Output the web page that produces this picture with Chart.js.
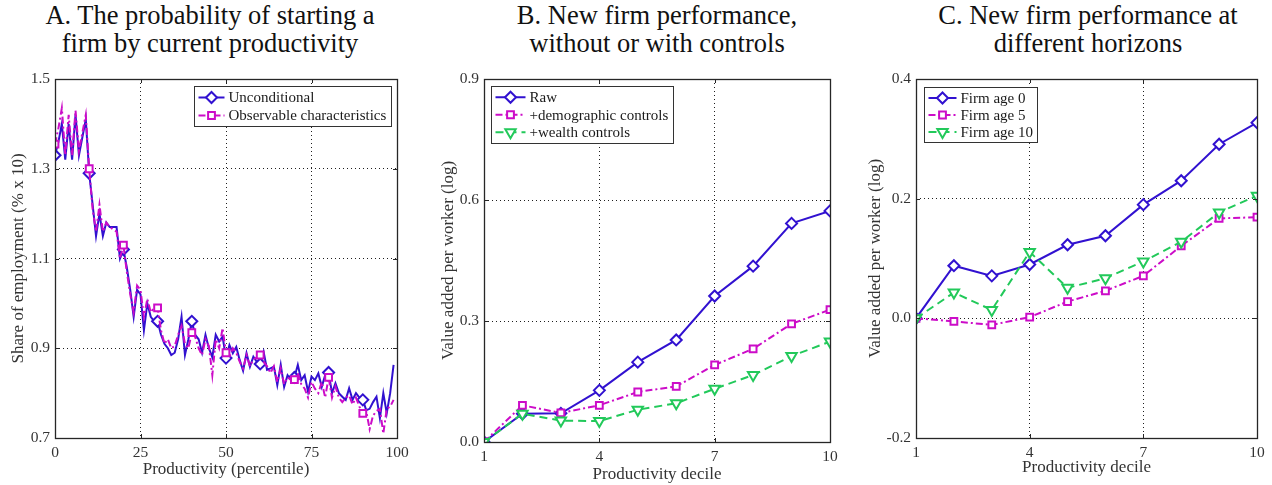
<!DOCTYPE html>
<html>
<head>
<meta charset="utf-8">
<script src="https://cdn.jsdelivr.net/npm/chart.js@4/dist/chart.umd.min.js"></script>
<style>
  html, body { margin: 0; padding: 0; background: #fff; }
  body { width: 1272px; height: 485px; position: relative; overflow: hidden; font-family: "Liberation Serif", serif; }
  .ttl { position: absolute; top: 1px; text-align: center; font-size: 26.5px; line-height: 28px; color: #111; white-space: nowrap; }
  .pane { position: absolute; top: 0; height: 485px; }
</style>
</head>
<body>
<div class="ttl" style="left:0;width:420px">A. The probability of starting a<br>firm by current productivity</div>
<div class="ttl" style="left:447px;width:420px">B. New firm performance,<br>without or with controls</div>
<div class="ttl" style="left:878px;width:420px">C. New firm performance at<br>different horizons</div>
<div class="pane" style="left:0;width:430px"><canvas id="chartA"></canvas></div>
<div class="pane" style="left:430px;width:430px"><canvas id="chartB"></canvas></div>
<div class="pane" style="left:860px;width:412px"><canvas id="chartC"></canvas></div>
<script>
// Panel A: share of employment starting a firm, by productivity percentile (0-99)
const unconditional = [
  1.33, 1.36, 1.40, 1.32, 1.40, 1.32, 1.42, 1.33, 1.37, 1.41,
  1.29, 1.22, 1.15, 1.20, 1.15, 1.18, 1.17, 1.17, 1.17, 1.10,
  1.12, 1.08, 1.03, 0.97, 1.03, 1.02, 0.94, 1.00, 0.97, 0.96,
  0.96, 0.93, 0.91, 0.90, 0.885, 0.89, 0.92, 0.97, 0.885, 0.92,
  0.96, 0.93, 0.92, 0.89, 0.93, 0.90, 0.88, 0.93, 0.915, 0.926,
  0.878, 0.907, 0.889, 0.903, 0.874, 0.85, 0.889, 0.859, 0.881, 0.87,
  0.865, 0.892, 0.852, 0.855, 0.859, 0.818, 0.863, 0.814, 0.84, 0.829,
  0.835, 0.863, 0.829, 0.84, 0.803, 0.837, 0.829, 0.844, 0.814, 0.84,
  0.846, 0.80, 0.822, 0.80, 0.792, 0.785, 0.811, 0.785, 0.80, 0.79,
  0.785, 0.762, 0.765, 0.78, 0.792, 0.744, 0.80, 0.755, 0.80, 0.863
];
const observable = [
  1.355, 1.39, 1.435, 1.33, 1.42, 1.33, 1.43, 1.34, 1.38, 1.42,
  1.30, 1.21, 1.16, 1.22, 1.16, 1.18, 1.17, 1.165, 1.16, 1.10,
  1.13, 1.07, 1.02, 0.98, 1.04, 1.03, 0.97, 1.01, 0.98, 0.99,
  0.99, 0.94, 0.91, 0.92, 0.90, 0.905, 0.93, 0.95, 0.91, 0.90,
  0.935, 0.925, 0.90, 0.885, 0.92, 0.905, 0.84, 0.92, 0.90, 0.945,
  0.89, 0.88, 0.90, 0.89, 0.87, 0.855, 0.885, 0.86, 0.875, 0.88,
  0.885, 0.87, 0.86, 0.845, 0.86, 0.825, 0.855, 0.82, 0.835, 0.83,
  0.83, 0.845, 0.82, 0.81, 0.79, 0.825, 0.81, 0.80, 0.825, 0.79,
  0.835, 0.79, 0.815, 0.79, 0.78, 0.79, 0.795, 0.775, 0.79, 0.77,
  0.755, 0.76, 0.72, 0.75, 0.76, 0.765, 0.71, 0.765, 0.77, 0.785
];

// Panels B and C: productivity deciles
const deciles = [1, 2, 3, 4, 5, 6, 7, 8, 9, 10];
const raw          = [0, 0.070, 0.071, 0.128, 0.198, 0.253, 0.362, 0.436, 0.542, 0.573];
const demographic  = [0, 0.091, 0.072, 0.091, 0.124, 0.138, 0.191, 0.231, 0.293, 0.328];
const wealth       = [0, 0.070, 0.053, 0.052, 0.080, 0.096, 0.132, 0.166, 0.213, 0.249];

const firmAge0  = [0, 0.088, 0.071, 0.090, 0.123, 0.138, 0.190, 0.230, 0.291, 0.327];
const firmAge5  = [0, -0.005, -0.011, 0.002, 0.028, 0.046, 0.071, 0.121, 0.167, 0.169];
const firmAge10 = [0, 0.043, 0.014, 0.111, 0.051, 0.067, 0.095, 0.128, 0.177, 0.205];

const ticksA_x = [0, 25, 50, 75, 100];
const ticksA_y = [0.7, 0.9, 1.1, 1.3, 1.5];

// styles
const BLUE = '#3111d0';
const MAGENTA = '#cc0cc8';
const GREEN = '#22c95a';
const SERIF = '"Liberation Serif", "DejaVu Serif", serif';
const TICK_SIZE = 15.5;
const TITLE_SIZE = 17;

const blueStyle = { borderColor: BLUE, borderWidth: 2, pointStyle: 'rectRot', pointBorderWidth: 2, pointBackgroundColor: '#fff', pointBorderColor: BLUE, radius: 5.5 };
const magentaStyle = { borderColor: MAGENTA, borderWidth: 2, borderDash: [7, 3, 2, 3], pointStyle: 'rect', pointBorderWidth: 2, pointBackgroundColor: '#fff', pointBorderColor: MAGENTA, radius: 4.8 };
const greenStyle = { borderColor: GREEN, borderWidth: 2, borderDash: [8, 5], pointStyle: 'triangle', pointRotation: 180, pointBorderWidth: 2, pointBackgroundColor: '#fff', pointBorderColor: GREEN, radius: 6 };

function lineSet(label, values, xs, style, order, markEvery) {
  return {
    label,
    data: values.map((v, i) => ({ x: xs ? xs[i] : i, y: v })),
    borderColor: style.borderColor,
    borderWidth: style.borderWidth,
    borderDash: style.borderDash || [],
    pointStyle: style.pointStyle,
    pointRotation: style.pointRotation || 0,
    pointBorderWidth: style.pointBorderWidth,
    pointBorderColor: style.pointBorderColor,
    pointBackgroundColor: style.pointBackgroundColor,
    pointRadius: markEvery ? values.map((v, i) => (i % markEvery === 0 ? style.radius : 0)) : style.radius,
    pointHoverRadius: 0,
    legendRadius: style.radius,
    fill: false,
    tension: 0,
    order
  };
}

// box around the plot area, with short inward ticks at the major tick values
const framePlugin = {
  id: 'frame',
  afterDatasetsDraw(chart) {
    const { ctx, chartArea: a, scales } = chart;
    ctx.save();
    ctx.strokeStyle = '#262626';
    ctx.lineWidth = 1.3;
    ctx.strokeRect(Math.round(a.left) + 0.5, Math.round(a.top) + 0.5, Math.round(a.width), Math.round(a.height));
    ctx.lineWidth = 1;
    const tl = 4;
    ctx.beginPath();
    scales.x.ticks.forEach(t => {
      const px = Math.round(scales.x.getPixelForValue(t.value)) + 0.5;
      ctx.moveTo(px, a.bottom); ctx.lineTo(px, a.bottom - tl);
      ctx.moveTo(px, a.top); ctx.lineTo(px, a.top + tl);
    });
    scales.y.ticks.forEach(t => {
      const py = Math.round(scales.y.getPixelForValue(t.value)) + 0.5;
      ctx.moveTo(a.left, py); ctx.lineTo(a.left + tl, py);
      ctx.moveTo(a.right, py); ctx.lineTo(a.right - tl, py);
    });
    ctx.stroke();
    ctx.restore();
  }
};

// legend drawn inside the plot area, in a framed white box
const boxLegend = {
  id: 'boxLegend',
  afterDraw(chart, args, o) {
    const { ctx, chartArea: a } = chart;
    const sets = chart.data.datasets;
    ctx.save();
    ctx.font = o.fontSize + 'px ' + SERIF;
    const textW = Math.max(...sets.map(d => ctx.measureText(d.label).width));
    const x0 = Math.round(a.left + o.x) + 0.5, y0 = Math.round(a.top + o.y) + 0.5;
    const w = Math.round(o.sample + 8 + textW + 5), h = Math.round(sets.length * o.row + 4);
    ctx.fillStyle = '#fff';
    ctx.fillRect(x0, y0, w, h);
    ctx.strokeStyle = '#333';
    ctx.lineWidth = 1;
    ctx.strokeRect(x0, y0, w, h);
    sets.forEach((d, i) => {
      const cy = y0 + 2 + o.row * (i + 0.5);
      const sx = x0 + 4;
      ctx.strokeStyle = d.borderColor;
      ctx.lineWidth = d.borderWidth;
      ctx.setLineDash(d.borderDash || []);
      ctx.beginPath();
      ctx.moveTo(sx, cy); ctx.lineTo(sx + o.sample, cy);
      ctx.stroke();
      ctx.setLineDash([]);
      ctx.fillStyle = d.pointBackgroundColor;
      ctx.strokeStyle = d.pointBorderColor;
      ctx.lineWidth = d.pointBorderWidth;
      Chart.helpers.drawPoint(ctx, { pointStyle: d.pointStyle, radius: d.legendRadius, borderWidth: d.pointBorderWidth, rotation: d.pointRotation }, sx + o.sample / 2, cy);
      ctx.fillStyle = '#1a1a1a';
      ctx.textBaseline = 'middle';
      ctx.textAlign = 'left';
      ctx.fillText(d.label, sx + o.sample + 4, cy + 1);
    });
    ctx.restore();
  }
};

function axis(opts) {
  return {
    type: 'linear',
    min: opts.min, max: opts.max,
    afterFit: s => { if (opts.width) s.width = opts.width; if (opts.height) s.height = opts.height; },
    afterBuildTicks: opts.values ? (s => { s.ticks = opts.values.map(v => ({ value: v })); }) : undefined,
    ticks: {
      stepSize: opts.step,
      padding: opts.tickPad,
      color: '#333',
      font: { family: SERIF, size: TICK_SIZE },
      callback: opts.fmt || (v => v),
      maxRotation: 0
    },
    grid: { color: '#1f1f1f', lineWidth: 1, drawTicks: false },
    border: { display: false, dash: [1, 3] },
    title: {
      display: true,
      text: opts.title,
      color: '#333',
      font: { family: SERIF, size: TITLE_SIZE },
      padding: opts.titlePad
    }
  };
}

function makeChart(id, datasets, xOpts, yOpts, padRight, legendOpts) {
  return new Chart(document.getElementById(id), {
    type: 'line',
    data: { datasets },
    options: {
      responsive: true,
      maintainAspectRatio: false,
      animation: false,
      events: [],
      layout: { padding: { top: 79, right: padRight, left: 0, bottom: 0 } },
      scales: { x: axis(xOpts), y: axis(yOpts) },
      plugins: { legend: { display: false }, tooltip: { enabled: false }, boxLegend: legendOpts }
    },
    plugins: [framePlugin, boxLegend]
  });
}

const fmt1 = v => Number(v).toFixed(1);

makeChart('chartA',
  [
    lineSet('Unconditional', unconditional, null, blueStyle, 2, 10),
    lineSet('Observable characteristics', observable, null, magentaStyle, 1, 10)
  ],
  { min: 0, max: 100, values: ticksA_x, tickPad: 6, height: 47, title: 'Productivity (percentile)', titlePad: { top: 0, bottom: 5 } },
  { min: 0.7, max: 1.5, values: ticksA_y, tickPad: 5, width: 55, fmt: fmt1, title: 'Share of employment (% x 10)', titlePad: { top: 8, bottom: 0 } },
  33,
  { x: 139, y: 7, sample: 26, row: 18, fontSize: 15 }
);

makeChart('chartB',
  [
    lineSet('Raw', raw, deciles, blueStyle, 3),
    lineSet('+demographic controls', demographic, deciles, magentaStyle, 2),
    lineSet('+wealth controls', wealth, deciles, greenStyle, 1)
  ],
  { min: 1, max: 10, step: 3, tickPad: 6, height: 43, title: 'Productivity decile', titlePad: { top: 0, bottom: 0 } },
  { min: 0, max: 0.9, step: 0.3, tickPad: 5, width: 54, fmt: fmt1, title: 'Value added per worker (log)', titlePad: { top: 8, bottom: 0 } },
  30,
  { x: 7, y: 7, sample: 30, row: 17.5, fontSize: 15 }
);

makeChart('chartC',
  [
    lineSet('Firm age 0', firmAge0, deciles, blueStyle, 3),
    lineSet('Firm age 5', firmAge5, deciles, magentaStyle, 2),
    lineSet('Firm age 10', firmAge10, deciles, greenStyle, 1)
  ],
  { min: 1, max: 10, step: 3, tickPad: 6, height: 47, title: 'Productivity decile', titlePad: { top: 0, bottom: 7 } },
  { min: -0.2, max: 0.4, step: 0.2, tickPad: 5, width: 56, fmt: fmt1, title: 'Value added per worker (log)', titlePad: { top: 5, bottom: 0 } },
  15,
  { x: 8, y: 8, sample: 28, row: 17, fontSize: 15 }
);
</script>
</body>
</html>
